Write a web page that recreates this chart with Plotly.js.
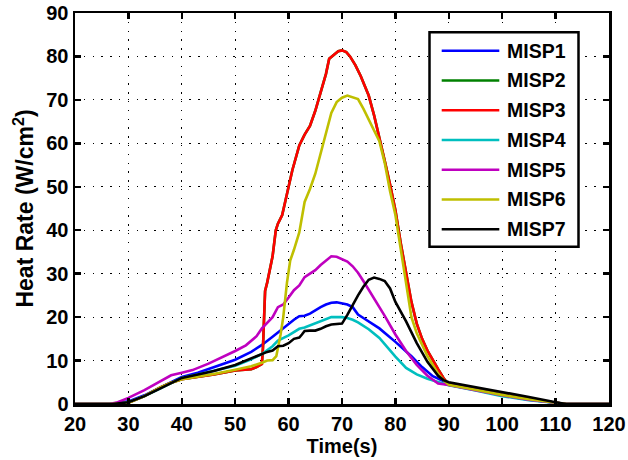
<!DOCTYPE html>
<html>
<head>
<meta charset="utf-8">
<script src="https://cdn.plot.ly/plotly-3.0.1.min.js"></script>
<style>html,body{margin:0;padding:0;background:#fff;}#chart{width:628px;height:460px;}</style>
</head>
<body>
<div id="chart"></div>
<script>
// ---- data ----
var seriesNames = ["MISP1", "MISP2", "MISP3", "MISP4", "MISP5", "MISP6", "MISP7"];
var seriesColors = ["#0000FF", "#008000", "#FF0000", "#00BFBF", "#BF00BF", "#BFBF00", "#000000"];

var misp1X = [20,27,30,33,36,38,40,43,45,50,53,55,57,58,60,61,62,63,64,65,66,67,68,69,70,71,72,73,74,75,77,80,83,85,87,89,90,95,100,105,110,112,120];
var misp1Y = [0,0,0.6,2.0,3.8,5.0,6.2,7.2,8.1,10.2,12.0,13.6,15.5,16.5,18.3,19.4,20.2,20.3,20.8,21.6,22.3,22.9,23.3,23.4,23.2,22.9,22.3,20.6,19.8,19.0,17.4,14.3,11.0,8.5,6.4,5.3,4.8,3.4,2.0,1.0,0.3,0,0];

var misp2X = [20,27,30,33,36,38,40,43,46,50,53,54,55,55.2,55.6,56,57,57.6,58,58.8,59.5,60,60.7,61.5,62,63,64,65,66,67,67.6,68.5,69.3,70,70.8,71.5,72.5,73.5,74.4,75,76,77,78,79,80,81,82,83,84,85,86,87,88,89,90,95,100,105,110,112,120];
var misp2Y = [0,0,0.3,1.8,3.8,4.9,5.7,6.2,6.8,7.7,8.0,8.5,9.2,13,26,28,34,40,41.5,43.5,47,50,53.8,57,59.5,62,64,67.5,71.5,76,79.5,80.5,81.2,81.4,81,80,78,75.5,73,71,66.5,61.5,56,50.5,44.6,37,30,23.5,18.5,15,12.3,10,8,6,4.4,3.3,2.1,1.1,0.3,0,0];

var misp3X = [20,27,30,33,36,38,40,43,46,50,53,54,55,55.2,55.6,56,57,57.6,58,58.8,59.5,60,60.7,61.5,62,63,64,65,66,67,67.6,68.5,69.3,70,70.8,71.5,72.5,73.5,74.4,75,76,77,78,79,80,81,82,83,84,85,86,87,88,89,90,95,100,105,110,112,120];
var misp3Y = [0,0,0.3,1.8,3.8,4.9,5.7,6.2,6.8,7.7,8.0,8.5,9.2,13,26,28,34,40,41.5,43.5,47,50,53.8,57,59.5,62,64,67.5,71.5,76,79.5,80.5,81.2,81.4,81,80,78,75.5,73,71,66.5,61.5,56,50.5,44.6,37,30,23.5,18.5,15,12.3,10,8,6,4.4,3.3,2.1,1.1,0.3,0,0];

var misp4X = [20,27,30,33,36,38,40,43,46,50,53,55,57,58,60,61,62,63,64,65,66,67,68,69,70,71,72,73,75,77,79,80,82,84,86,88,90,95,100,105,110,112,120];
var misp4Y = [0,0,0.4,1.8,3.6,4.8,6.0,6.8,7.6,8.8,10.3,11.5,13.3,14.6,15.8,16.6,17.3,17.6,18.1,18.6,19.1,19.6,20.0,20.0,20.0,19.8,19.4,18.8,17.2,15.2,12.2,10.9,8.3,6.8,5.8,5.1,4.3,3.1,1.8,0.9,0.2,0,0];

var misp5X = [20,26.5,28,30,33,36,38,40,42,45,48,50,52,54,55,56,57,58,59,60,61,62,63,64,65,66,67,68,69,70,71,72,73,74,76,78,80,82,84,86,88,90,95,100,105,110,112,120];
var misp5Y = [0,0,0.4,1.4,3.2,5.2,6.6,7.2,7.8,9.3,11.0,12.2,13.5,15.6,17.4,18.6,20.0,22.3,22.9,24.5,26.2,27.3,29.2,30.0,30.8,32.0,33.1,34.0,33.9,33.4,32.8,31.7,30.2,28.3,24.4,20.3,16.0,12.2,9.0,6.5,4.7,4.4,3.2,2.0,1.0,0.2,0,0];

var misp6X = [20,27,30,33,36,38,40,43,46,50,53,55,56,57,57.7,58.5,59,59.7,60.3,61,62,63,64,65,66,67,68,69,70,71,72,73,74,75,76,77,78,79,80,81,82,83,84,85,86,87,88,89,90,95,100,105,110,112,120];
var misp6Y = [0,0,0.3,1.8,3.8,4.9,5.7,6.3,6.9,7.9,8.7,9.5,10.0,10.1,11.0,16,20,28,33,35.5,39.5,46.5,49.5,53,57.5,62,67,69.5,70.5,71,70.6,70.2,68,65.4,63,60.5,55.5,49,43.5,35.4,27,20,16.3,13.5,11,9,7,5.5,4.4,3.3,2.1,1.1,0.3,0,0];

var misp7X = [20,27,30,33,36,38,40,43,46,50,53,55,56,57,58,59,60,61,62,62.5,63,64,65,66,67,68,69,70,71,72,73,74,75,76,77,78,79,80,82,84,86,88,89,90,95,100,105,110,112,120];
var misp7Y = [0,0,0.4,1.8,3.6,4.8,6.0,6.8,7.6,9.0,10.5,11.5,12.0,12.3,13.3,13.4,14.0,15.0,15.3,16.0,16.8,16.9,16.9,17.3,17.9,18.3,18.4,18.5,20.5,22.8,25.0,27.0,28.6,29.1,28.8,28.3,26.6,23.5,19.0,14.0,9.7,6.5,5.5,5.0,3.9,2.7,1.6,0.4,0,0];

var xTicks = [20,30,40,50,60,70,80,90,100,110,120];
var yTicks = [0,10,20,30,40,50,60,70,80,90];
var xTitle = "Time(s)";
var yTitle = "Heat Rate (W/cm<sup>2</sup>)";

// ---- build ----
var xs = [misp1X, misp2X, misp3X, misp4X, misp5X, misp6X, misp7X];
var ys = [misp1Y, misp2Y, misp3Y, misp4Y, misp5Y, misp6Y, misp7Y];
var FONT = "Liberation Sans, Arial, Helvetica, sans-serif";

var traces = seriesNames.map(function (n, i) {
  return {
    type: "scatter", mode: "lines", name: n,
    x: xs[i], y: ys[i],
    line: {color: seriesColors[i], width: 2.6},
    showlegend: false, hoverinfo: "skip"
  };
});

// manual legend (MATLAB-style box)
var L = 75, R = 609, T = 13, B = 404;
function px(v) { return (v - L) / (R - L); }
function py(v) { return (B - v) / (B - T); }
var shapes = [{
  type: "rect", xref: "paper", yref: "paper",
  x0: px(429.5), x1: px(578.5), y0: py(246.7), y1: py(32.3),
  line: {color: "#000", width: 2.5}, fillcolor: "#fff", layer: "above"
}];
var annotations = [];
seriesNames.forEach(function (n, i) {
  var yy = 50.7 + i * 29.75;
  shapes.push({
    type: "line", xref: "paper", yref: "paper",
    x0: px(441.7), x1: px(499.3), y0: py(yy), y1: py(yy),
    line: {color: seriesColors[i], width: 2.6}, layer: "above"
  });
  annotations.push({
    xref: "paper", yref: "paper", x: px(505), y: py(yy),
    xanchor: "left", yanchor: "middle", text: n, showarrow: false,
    font: {family: FONT, size: 19.5, color: "#000", weight: "bold"}
  });
});

var axisCommon = {
  showline: true, linecolor: "#000", linewidth: 2.5, mirror: "ticks",
  ticks: "inside", ticklen: 6, tickwidth: 2.5, tickcolor: "#000",
  showgrid: true, gridcolor: "#000", gridwidth: 1, griddash: "1.3px,7.5px",
  zeroline: false, tickfont: {family: FONT, size: 20, color: "#000", weight: "bold"}
};

var layout = {
  width: 628, height: 460,
  margin: {l: L, r: 628 - R, t: T, b: 460 - B},
  paper_bgcolor: "#fff", plot_bgcolor: "#fff",
  showlegend: false,
  xaxis: Object.assign({}, axisCommon, {
    range: [20, 120], tickmode: "array", tickvals: xTicks,
    title: {text: xTitle, font: {family: FONT, size: 20, color: "#000", weight: "bold"}, standoff: 4}
  }),
  yaxis: Object.assign({}, axisCommon, {
    range: [0, 90], tickmode: "array", tickvals: yTicks,
    title: {text: yTitle, font: {family: FONT, size: 23, color: "#000", weight: "bold"}, standoff: 6}
  }),
  shapes: shapes,
  annotations: annotations
};

Plotly.newPlot("chart", traces, layout, {displayModeBar: false, staticPlot: true});
</script>
</body>
</html>
